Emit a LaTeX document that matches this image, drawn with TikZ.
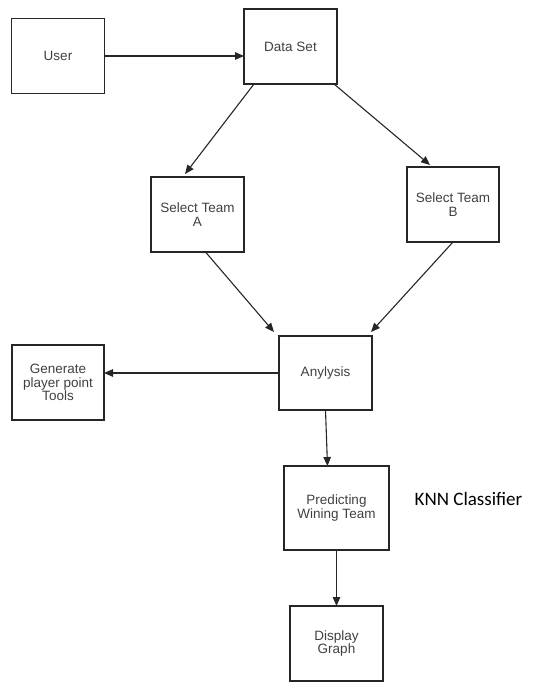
\documentclass[tikz,border=0pt]{standalone}
\usepackage{fontspec}
\setmainfont{Liberation Sans}
\newfontfamily\knnfont{Carlito}
\usetikzlibrary{arrows.meta}

\begin{document}
\begin{tikzpicture}[
            x=1pt, y=-1pt,
            box/.style={draw=black!85, line width=1.2pt, inner sep=0pt, outer sep=0pt,
                minimum width=93pt, minimum height=75pt, align=center,
                text=black!75, font=\fontsize{13.5}{13.5}\selectfont},
            flow/.style={draw=black!85, line width=1.1pt, -{Triangle[length=9pt,width=7.5pt]}},
            ]
            \useasboundingbox (0,0) rectangle (537,682);

            \node[box] (user) at (58,56) {User};
            \node[box] (data) at (290.5,46.5) {Data Set};
            \node[box] (teamA) at (197.5,214.5) {Select Team\\A};
            \node[box, minimum width=92pt] (teamB) at (453,204.5) {Select Team\\B};
            \node[box, minimum height=74pt] (anly) at (325.5,373) {Anylysis};
            \node[box, minimum width=92pt] (gen) at (58,382.5) {Generate\\player point\\Tools};
            \node[box, minimum width=105pt, minimum height=84pt] (pred) at (336.5,508) {Predicting\\Wining Team};
            \node[box] (disp) at (336.5,643.5) {Display\\Graph};
            \node[font=\knnfont\fontsize{19}{21}\selectfont] (knn) at (468.5,499) {KNN Classifier};

            \draw[flow] (user.east) -- (user.east -| data.west);
            \draw[flow] ([xshift=10pt]data.south west) -- ([xshift=34pt,yshift=3pt]teamA.north west);
            \draw[flow] ([xshift=-3pt]data.south east) -- ([xshift=23pt,yshift=2pt]teamB.north west);
            \draw[flow] ([xshift=8pt]teamA.south) -- ([xshift=-5pt,yshift=4pt]anly.north west);
            \draw[flow] (teamB.south) -- ([xshift=-1pt,yshift=4pt]anly.north east);
            \draw[flow] (anly.west) -- (anly.west -| gen.east);
            \draw[flow] (anly.south) -- ([xshift=-9pt]pred.north);
            \draw[flow] (pred.south) -- (disp.north);
        \end{tikzpicture}
\end{document}
